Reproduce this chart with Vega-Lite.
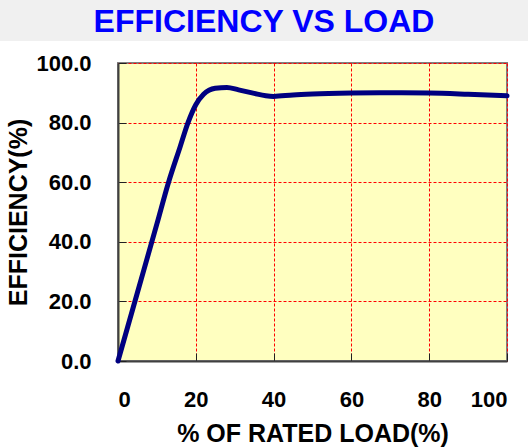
{
  "$schema": "https://vega.github.io/schema/vega-lite/v6.json",
  "padding": 0,
  "background": "white",
  "spacing": 10,
  "config": {"view": {"stroke": null}},
  "vconcat": [
    {
      "width": 528,
      "height": 41,
      "view": {"fill": "#f0f0f0", "stroke": null},
      "data": {"values": [{"t": "EFFICIENCY VS LOAD"}]},
      "mark": {"type": "text", "font": "Liberation Sans", "fontWeight": "bold", "fontSize": 32, "color": "#0000ff", "baseline": "middle", "align": "center", "dy": 1.5},
      "encoding": {"text": {"field": "t", "type": "nominal"}}
    },
    {
      "spacing": 4,
      "hconcat": [
        {
          "width": 1,
          "height": 298,
          "data": {"values": [{"t": ""}]},
          "mark": {"type": "text", "opacity": 0},
          "encoding": {"text": {"field": "t", "type": "nominal"}}
        },
        {
          "width": 389,
          "height": 298,
          "view": {"fill": "#ffffc0", "stroke": "#808080", "strokeWidth": 2},
          "data": {"values": [
            {"load": 0, "eff": 0},
            {"load": 5, "eff": 23},
            {"load": 10, "eff": 46},
            {"load": 13, "eff": 60},
            {"load": 16, "eff": 72},
            {"load": 18, "eff": 80},
            {"load": 20, "eff": 86},
            {"load": 22, "eff": 89.5},
            {"load": 25, "eff": 91.5},
            {"load": 28, "eff": 91.8},
            {"load": 31, "eff": 91},
            {"load": 35, "eff": 89.8},
            {"load": 38, "eff": 89},
            {"load": 40, "eff": 88.8},
            {"load": 45, "eff": 89.3},
            {"load": 50, "eff": 89.6},
            {"load": 60, "eff": 89.9},
            {"load": 70, "eff": 90},
            {"load": 80, "eff": 89.9},
            {"load": 90, "eff": 89.5},
            {"load": 100, "eff": 89}
          ]},
          "mark": {"type": "line", "color": "#000080", "strokeWidth": 5, "interpolate": "monotone", "strokeCap": "round"},
          "encoding": {
            "x": {"field": "load", "type": "quantitative", "scale": {"domain": [0, 100], "nice": false},
              "axis": {"values": [0, 20, 40, 60, 80, 100], "format": "d", "title": "% OF RATED LOAD(%)",
                "grid": true, "gridColor": "#ff0000", "gridDash": [3, 2], "gridWidth": 1, "gridOpacity": 1,
                "domainColor": "#404040", "domainWidth": 2, "tickColor": "#202020", "tickSize": -8, "tickWidth": 1,
                "labelFont": "Liberation Sans", "labelFontWeight": "bold", "labelFontSize": 22, "labelColor": "#000000", "labelPadding": 36,
                "titleFont": "Liberation Sans", "titleFontWeight": "bold", "titleFontSize": 25, "titleColor": "#000000", "titlePadding": 11}},
            "y": {"field": "eff", "type": "quantitative", "scale": {"domain": [0, 100], "nice": false},
              "axis": {"values": [0, 20, 40, 60, 80, 100], "format": ".1f", "title": "EFFICIENCY(%)",
                "grid": true, "gridColor": "#ff0000", "gridDash": [3, 2], "gridWidth": 1, "gridOpacity": 1,
                "domainColor": "#404040", "domainWidth": 2, "tickColor": "#202020", "tickSize": -8, "tickWidth": 1,
                "labelFont": "Liberation Sans", "labelFontWeight": "bold", "labelFontSize": 22, "labelColor": "#000000", "labelPadding": 35,
                "titleFont": "Liberation Sans", "titleFontWeight": "bold", "titleFontSize": 25, "titleColor": "#000000", "titlePadding": 4}}
          }
        }
      ]
    }
  ]
}
